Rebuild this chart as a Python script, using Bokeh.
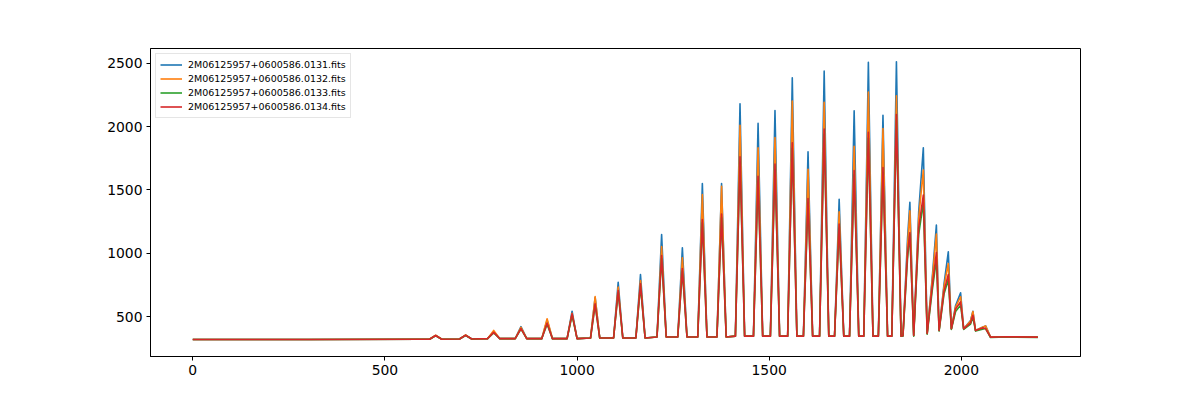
from bokeh.plotting import figure
from bokeh.models import FixedTicker, Legend, LegendItem, Range1d
from bokeh.embed import file_html
from bokeh.resources import INLINE

# ---- data ----
labels = ["2M06125957+0600586.0131.fits", "2M06125957+0600586.0132.fits",
          "2M06125957+0600586.0133.fits", "2M06125957+0600586.0134.fits"]
colors = ["#1f77b4", "#ff7f0e", "#2ca02c", "#d62728"]

start_x = [0, 300, 600]
start_y = [318, 318, 320]

peak_x = [632, 710, 783, 854, 922, 987, 1047, 1107, 1165, 1220, 1274, 1326, 1376,
          1424, 1471, 1515, 1560, 1601, 1643, 1682, 1721, 1758, 1796, 1831]
peak_w = [16, 16, 16, 15, 14, 13, 12, 12, 12, 12, 12, 12, 12,
          12, 12, 12, 12, 12, 12, 12, 12, 12, 12, 12]
foot_y = [320, 322, 325, 325, 325, 325, 330, 330, 330, 338, 338, 338, 338,
          345, 345, 345, 345, 345, 345, 345, 345, 345, 345, 345]
peak_blue = [350, 352, 380, 420, 470, 542, 650, 771, 832, 1148, 1043, 1551, 1551,
             2181, 2026, 2128, 2387, 1802, 2439, 1427, 2126, 2508, 2091, 2513]
peak_orange = [352, 355, 390, 415, 482, 525, 658, 732, 785, 1053, 964, 1464, 1530,
               2012, 1834, 1915, 2202, 1664, 2192, 1328, 1846, 2273, 1986, 2245]
peak_green = [348, 350, 370, 400, 440, 510, 590, 690, 740, 960, 860, 1240, 1280,
              1720, 1570, 1660, 1830, 1400, 1940, 1200, 1620, 1910, 1640, 2050]
peak_red = [350, 352, 375, 405, 447, 521, 600, 705, 758, 982, 879, 1267, 1309,
            1762, 1609, 1704, 1873, 1433, 1981, 1230, 1654, 1955, 1678, 2097]

tail_x = [1848, 1860, 1866, 1876, 1889, 1901, 1911, 1924, 1935, 1942, 1955, 1966,
          1974, 1985, 1998, 2006, 2024, 2030, 2037, 2055, 2063, 2076, 2120, 2199]
tail_blue = [348, 1120, 1403, 350, 1330, 1834, 366, 800, 1222, 390, 761, 1011,
             403, 587, 687, 403, 468, 542, 389, 416, 426, 337, 340, 337]
tail_orange = [348, 1060, 1335, 350, 1280, 1658, 366, 780, 1151, 390, 740, 919,
               403, 575, 656, 403, 465, 540, 389, 416, 426, 337, 340, 337]
tail_green = [345, 960, 1150, 345, 1150, 1400, 360, 700, 950, 385, 680, 790,
              398, 540, 590, 398, 440, 495, 385, 400, 405, 334, 338, 335]
tail_red = [348, 1000, 1164, 350, 1200, 1459, 366, 730, 1006, 390, 700, 832,
            403, 560, 616, 403, 450, 510, 389, 410, 405, 337, 340, 337]

x_ticks = [0, 500, 1000, 1500, 2000]
y_ticks = [500, 1000, 1500, 2000, 2500]


def build(peaks, tail):
    xs = list(start_x)
    ys = list(start_y)
    for px, h, w, f in zip(peak_x, peaks, peak_w, foot_y):
        xs += [px - w, px, px + w]
        ys += [f, h, f]
    xs += tail_x
    ys += tail
    return xs, ys


series = [build(peak_blue, tail_blue), build(peak_orange, tail_orange),
          build(peak_green, tail_green), build(peak_red, tail_red)]

p = figure(width=1190, height=392, output_backend="svg", toolbar_location=None,
           x_range=Range1d(-110, 2310), y_range=Range1d(184, 2618),
           min_border_left=150, min_border_right=110, min_border_top=48,
           min_border_bottom=36)

items = []
for (xs, ys), c, lab in zip(series, colors, labels):
    r = p.line(xs, ys, line_color=c, line_width=1.6, line_join="round")
    items.append(LegendItem(label=lab, renderers=[r]))

p.xgrid.visible = False
p.ygrid.visible = False
p.outline_line_color = "black"
p.outline_line_width = 1
p.background_fill_color = "white"
p.border_fill_color = "white"

for ax, ticks in ((p.xaxis[0], x_ticks), (p.yaxis[0], y_ticks)):
    ax.ticker = FixedTicker(ticks=ticks)
    ax.minor_tick_line_color = None
    ax.major_tick_in = 0
    ax.major_tick_out = 4
    ax.major_tick_line_color = "black"
    ax.axis_line_color = "black"
    ax.major_label_text_font = "DejaVu Sans"
    ax.major_label_text_font_size = "13.9px"
    ax.major_label_text_color = "black"
    ax.major_label_standoff = 4

legend = Legend(items=items, location="top_left")
legend.margin = 5
legend.padding = 4
legend.spacing = 1
legend.glyph_width = 22
legend.glyph_height = 13
legend.label_height = 13
legend.label_standoff = 6
legend.label_text_font = "DejaVu Sans"
legend.label_text_font_size = "9.5px"
legend.label_text_color = "black"
legend.border_line_color = "#cccccc"
legend.border_line_width = 1
legend.background_fill_alpha = 0.8
p.add_layout(legend)

open("out.html", "w").write(file_html(p, INLINE))
